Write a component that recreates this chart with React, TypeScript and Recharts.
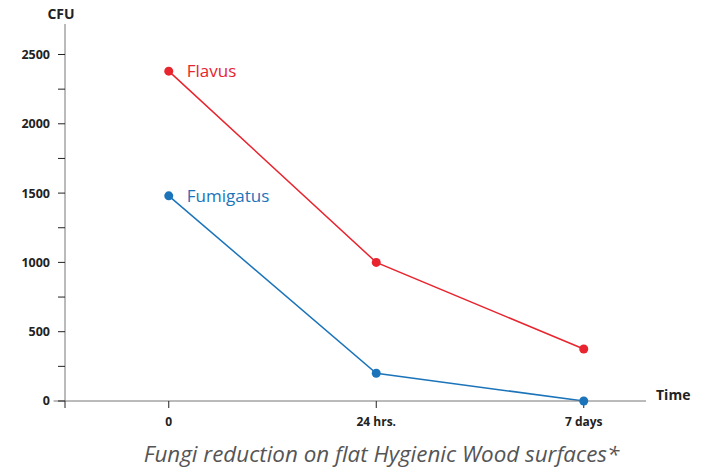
import React from "react";
import { LineChart, Line, XAxis, YAxis, ReferenceLine } from "recharts";

const TIME_LABELS = ["0", "24 hrs.", "7 days"];
const FLAVUS = [2380, 1000, 375];
const FUMIGATUS = [1480, 200, 0];
const Y_TICKS = [0, 250, 500, 750, 1000, 1250, 1500, 1750, 2000, 2250, 2500];

const RED = "#e8242e";
const BLUE = "#1b74ba";
const AXIS = "#777777";
const FONT = "'Open Sans', 'Noto Sans', sans-serif";

const data = TIME_LABELS.map((label, i) => ({
  t: i,
  label,
  flavus: FLAVUS[i],
  fumigatus: FUMIGATUS[i],
}));

function seriesLabel(text: string, color: string) {
  return (props: any) => {
    if (props.index !== 0) return null;
    return (
      <text
        x={props.x + 18}
        y={props.y + 6}
        fill={color}
        fontSize={17}
        fontFamily={FONT}
      >
        {text}
      </text>
    );
  };
}

export default function App() {
  return (
    <div style={{ position: "absolute", left: 0, top: 0, width: 708, height: 474, background: "#fff" }}>
      <LineChart
        width={708}
        height={474}
        data={data}
        margin={{ top: 24, right: 62, bottom: 43, left: 0 }}
      >
        <XAxis
          dataKey="t"
          type="number"
          domain={[-0.5, 2.3]}
          ticks={[-0.5, 0, 1, 2]}
          allowDataOverflow
          height={30}
          stroke={AXIS}
          tickSize={7}
          tickMargin={9}
          interval={0}
          tickFormatter={(v: number) => (Number.isInteger(v) ? TIME_LABELS[v] : "")}
          tick={{ fill: "#222", fontSize: 12, fontWeight: 700, fontFamily: FONT }}
          tickLine={{ stroke: "#222" }}
        />
        <YAxis
          type="number"
          domain={[0, 2720]}
          ticks={Y_TICKS}
          width={65}
          stroke={AXIS}
          tickSize={7}
          tickMargin={8}
          interval={0}
          tickFormatter={(v: number) => (v % 500 === 0 ? String(v) : "")}
          tick={{ fill: "#222", fontSize: 12.5, fontWeight: 700, fontFamily: FONT }}
          tickLine={{ stroke: "#222" }}
        />
        {/* x axis line pokes out a little left of the y axis */}
        <ReferenceLine
          segment={[{ x: -0.555, y: 0 }, { x: -0.5, y: 0 }]}
          ifOverflow="visible"
          stroke={AXIS}
        />
        <Line
          dataKey="flavus"
          stroke={RED}
          strokeWidth={1.5}
          dot={{ r: 4.5, fill: RED, stroke: RED, strokeWidth: 0 }}
          label={seriesLabel("Flavus", RED)}
          isAnimationActive={false}
        />
        <Line
          dataKey="fumigatus"
          stroke={BLUE}
          strokeWidth={1.5}
          dot={{ r: 4.5, fill: BLUE, stroke: BLUE, strokeWidth: 0 }}
          label={seriesLabel("Fumigatus", BLUE)}
          isAnimationActive={false}
        />
      </LineChart>
      <div style={{ position: "absolute", left: 31, width: 60, top: 4, textAlign: "center", fontFamily: FONT, fontWeight: 700, fontSize: 14, color: "#222" }}>
        CFU
      </div>
      <div style={{ position: "absolute", left: 656, top: 385, fontFamily: FONT, fontWeight: 700, fontSize: 14, color: "#222" }}>
        Time
      </div>
      <div style={{ position: "absolute", left: 0, width: 763, top: 438, textAlign: "center", fontFamily: FONT, fontStyle: "italic", fontSize: 22.4, color: "#555" }}>
        Fungi reduction on flat Hygienic Wood surfaces*
      </div>
    </div>
  );
}
